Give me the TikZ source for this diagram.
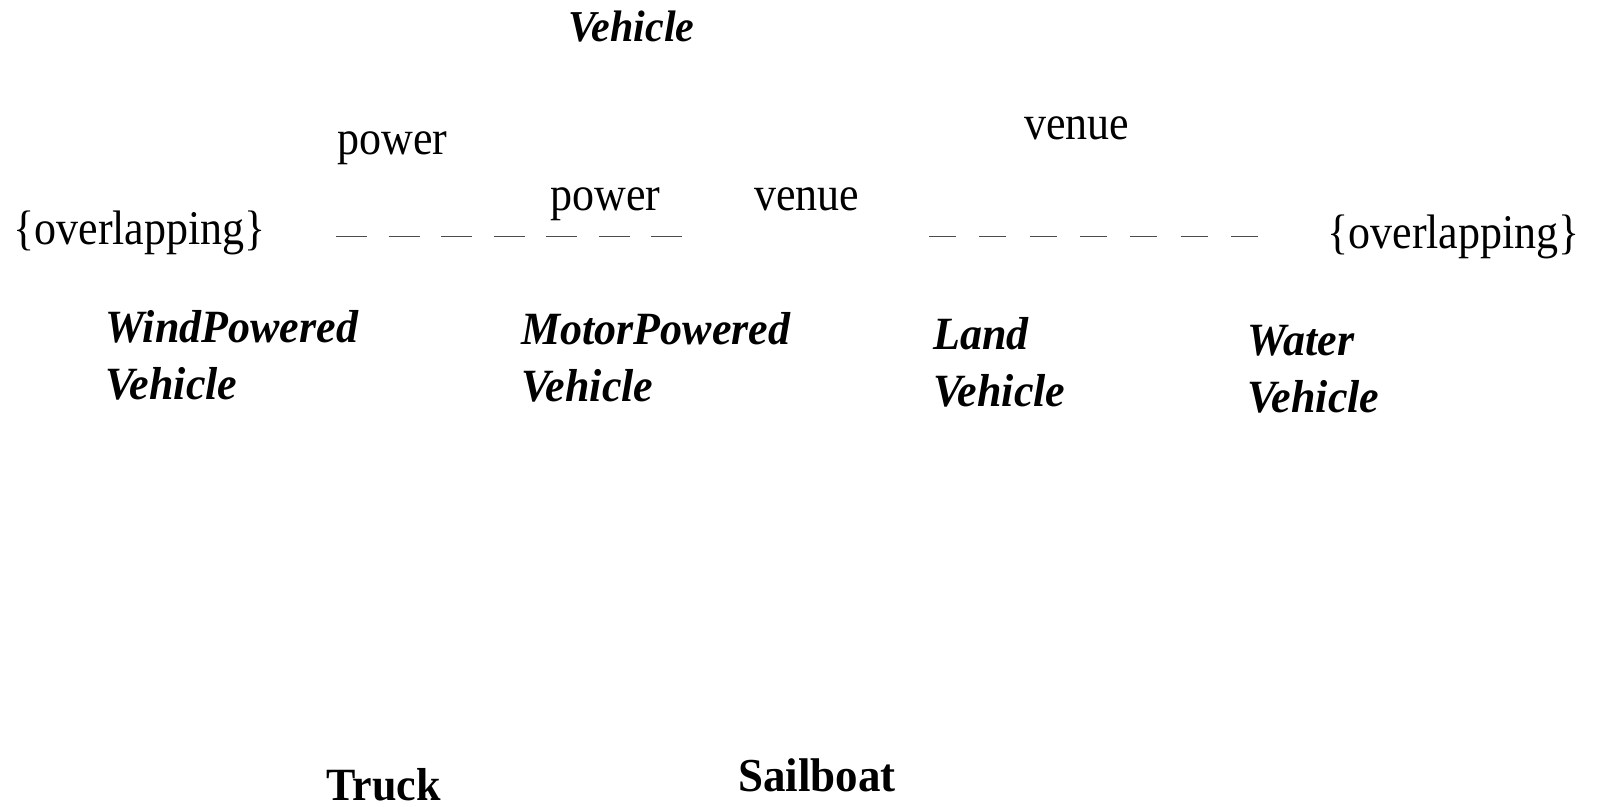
\documentclass[tikz,border=0pt]{standalone}
\usepackage{fontspec}
\setmainfont{Liberation Serif}
\begin{document}
\begin{tikzpicture}[x=0.5pt,y=0.5pt,
  lbl/.style={anchor=base west,inner sep=0pt,font=\fontsize{22}{27.5}\selectfont,yscale=1.1,transform shape},
  cls/.style={anchor=base west,inner sep=0pt,align=left,font=\fontsize{22}{27}\selectfont\bfseries\itshape,yscale=1.05,transform shape},
  inst/.style={anchor=base west,inner sep=0pt,font=\fontsize{22}{27}\selectfont\bfseries,yscale=1.05,transform shape},
  gen/.style={draw=black!70,line width=0.8pt}
]
\useasboundingbox (0,0) rectangle (1598,-807);
% classes (multi-line nodes: base = baseline of last line)
\node[cls,font=\fontsize{21}{25}\selectfont\bfseries\itshape] (veh) at (568,-42) {Vehicle};
\node[cls] (wind) at (105,-399) {WindPowered\\Vehicle};
\node[cls] (motor) at (521,-401) {MotorPowered\\Vehicle};
\node[cls] (land) at (933,-406) {Land\\Vehicle};
\node[cls] (water) at (1247,-412) {Water\\Vehicle};
% instances
\node[inst] (truck) at (326,-800) {Truck};
\node[inst,font=\fontsize{22.5}{27}\selectfont\bfseries] (sail) at (738,-791) {Sailboat};
% discriminator labels
\node[lbl] (p1) at (337,-155) {power};
\node[lbl] (p2) at (550,-211) {power};
\node[lbl] (v1) at (754,-211) {venue};
\node[lbl] (v2) at (1024,-140) {venue};
\node[lbl] (ovl) at (13,-245) {\{overlapping\}};
\node[lbl] (ovr) at (1327,-249) {\{overlapping\}};
% dashed generalization-set lines
\coordinate (la) at (336,-236.5);
\coordinate (lb) at (682,-236.5);
\coordinate (ra) at (929,-236.5);
\coordinate (rb) at (1259,-236.5);
\draw[gen,dash pattern=on 15.5pt off 10.75pt] (la) -- (lb);
\draw[gen,dash pattern=on 13.5pt off 11.65pt] (ra) -- (rb);
\end{tikzpicture}
\end{document}
